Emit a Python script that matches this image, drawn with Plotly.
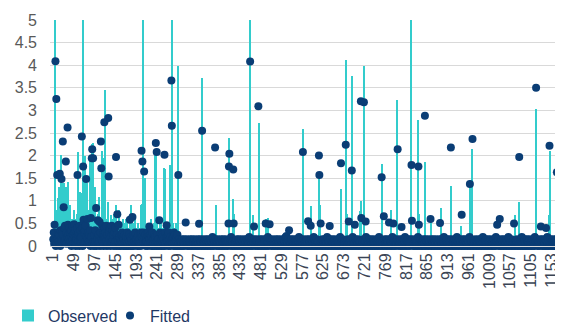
import plotly.graph_objects as go

# ---------------- data ----------------
# Baseline observed values, one digit per category, in tenths (0.1 units)
observed_base_rows = [
    "342516232814352624173526183425162437251634261528",
    "253416273518243615273426153724361827352416283517",
    "243516372415263418253627143526172435182634251736",
    "231524163214251326152413261523142516231425132614",
    "241325142315241623152614231524132516241325142316",
    "251423152614231524162315241325142316251423152413",
    "120110211021120121102110011210121102012120110211",
    "021121011210201120110211110201210112101221102110",
    "102112010211210112011021201102111210201111020121",
    "211021100112101210211201121020110211210112011021",
    "110201212011021102112101211021101201102101121012",
    "121020111102012121102110102112012011021102112101",
    "011210121201102111020121021121012110211010211201",
    "201102112110211012102011011210121021120111020121",
    "120110210211210101121012110201211210201120110211",
    "102112012011021121102110120110210211210112102011",
    "021121011102012110211201201102110112101221102110",
    "211021101210201111020121021121011201102101121012",
    "110201210112101220110211102112012110211012011021",
    "121020112110211002112101120110211102012110211201",
    "011210121021120112102011211021102011021102112101",
    "201102111201102101121012110201211021120121102110",
    "120110211102012121102110201102110211210112102011",
    "021121012011021112011021011210122110211011020121",
    "10211201121020112110211001",
]
# Baseline fitted values, one digit per category, in 0.05 units
fitted_base_rows = [
    "361528041736251904372615082937164205381627049315",
    "261704381526093714280536172904381625170943618205",
    "172604391528061739250418362905172638041927350618",
    "240513260413052614031502240613052604130315042613",
    "130425031506140326041503250614031504260315041305",
    "250314061305240315061403250613042503140615032405",
    "021301202130120312021301202130120312021301202130",
    "120312021301202130120312021301204130120312021301",
    "202130120312021301202130120412021301202130120312",
    "021301202130120312021401202130120312021301202130",
    "120312021301202140120312021301202130120312021301",
    "202130120412021301202130120312021301202140120312",
    "021301202130120312021301204130120312021301202130",
    "120312021401202130120312021301202130120412021301",
    "202130120312021301204130120312021301202130120312",
    "021401202130120312021301202130120412021301202130",
    "120312021301202140120312021301202130120312021401",
    "202130120312021301202130120412021301202130120312",
    "021301204130120312021301202130120312021401202130",
    "120312021301202130120412021301202130120312021301",
    "204130120312021301202130120312021401202130120312",
    "021301202130120412021301202130120312021301204130",
    "120312021301202130120312021401202130120312021301",
    "202130120412021301202130120312021301204130120312",
    "02130120213012031202140120",
]

# Larger observed values (category number -> value)
observed_spike_idx = [5, 11, 14, 18, 20, 24, 27, 30, 35, 40, 58, 62, 65, 71, 75, 80, 86, 90, 92,
                      98, 106, 113, 115, 121, 128, 134, 146, 152, 181, 204, 206, 208, 213, 236,
                      239, 256, 259, 272, 275, 290, 345, 377, 407, 417, 420, 456, 464, 476, 493,
                      498, 578, 596, 616, 618, 666, 677, 680, 691, 710, 713, 719, 760, 783, 796,
                      829, 845, 847, 860, 874, 898, 920, 944, 964, 970, 1068, 1077, 1117, 1146,
                      1149, 1165]
observed_spike_val = [6.0, 1.06, 1.3, 1.5, 2.02, 1.39, 1.4, 1.31, 1.42, 0.9, 2.09, 1.2, 1.17, 6.0,
                      2.0, 1.39, 1.87, 2.25, 2.28, 1.31, 1.09, 2.1, 1.95, 3.46, 0.98, 0.68, 0.9,
                      0.8, 0.91, 0.9, 0.93, 6.0, 1.5, 2.1, 2.15, 1.73, 1.7, 1.8, 6.0, 3.98, 3.72,
                      0.91, 2.39, 1.03, 0.7, 6.0, 0.69, 2.73, 0.6, 0.62, 2.59, 0.89, 1.6, 0.9,
                      1.26, 4.12, 0.7, 3.76, 0.78, 1.0, 3.99, 1.82, 0.8, 3.22, 6.0, 2.78, 0.7,
                      1.85, 0.55, 0.83, 1.32, 0.45, 1.46, 2.15, 0.69, 0.97, 3.03, 0.68, 2.11, 1.61]

# Larger fitted values (category number -> value)
fitted_spike_idx = [4, 6, 8, 10, 16, 18, 20, 23, 25, 30, 34, 35, 49, 57, 67, 70, 71, 77, 80, 88,
                    90, 91, 93, 100, 104, 108, 111, 112, 119, 128, 129, 146, 149, 152, 178, 184,
                    205, 207, 211, 223, 238, 240, 246, 258, 263, 274, 275, 290, 307, 338, 345,
                    375, 406, 407, 408, 417, 418, 456, 465, 475, 492, 501, 540, 546, 578, 590,
                    596, 615, 616, 619, 640, 666, 677, 684, 691, 698, 712, 713, 719, 723, 760,
                    765, 777, 787, 797, 806, 829, 830, 845, 846, 860, 873, 895, 920, 945, 964,
                    970, 1027, 1033, 1066, 1078, 1117, 1128, 1140, 1148, 1165]
fitted_spike_val = [0.47, 4.09, 3.25, 1.57, 1.6, 0.35, 1.48, 2.31, 0.86, 1.87, 2.62, 0.47, 0.48,
                    1.57, 2.42, 1.76, 0.58, 1.48, 0.6, 0.62, 1.94, 2.14, 1.94, 0.84, 0.57, 0.53,
                    2.31, 1.72, 2.74, 2.83, 1.54, 1.97, 0.7, 0.47, 0.58, 0.64, 2.11, 1.87, 1.65,
                    0.43, 2.28, 2.08, 0.57, 2.02, 0.46, 3.66, 2.66, 1.57, 0.52, 0.49, 2.55, 2.18,
                    0.5, 1.76, 2.04, 1.69, 0.5, 4.08, 0.43, 3.09, 0.5, 0.48, 0.22, 0.35, 2.08,
                    0.55, 0.45, 2.0, 1.57, 0.5, 0.44, 1.83, 2.24, 0.54, 1.67, 0.47, 3.2, 0.62,
                    3.18, 0.54, 1.52, 0.66, 0.52, 0.5, 2.14, 0.42, 1.79, 0.56, 1.76, 0.47, 2.88,
                    0.6, 0.51, 2.18, 0.69, 1.37, 2.37, 0.47, 0.6, 0.5, 1.97, 3.5, 0.43, 0.4,
                    2.22, 1.63]

TICK_STEP = 48

# ---------------- build series ----------------
obs_digits = "".join(observed_base_rows)
fit_digits = "".join(fitted_base_rows)
n = min(len(obs_digits), len(fit_digits))
categories = list(range(1, n + 1))
observed = [int(c) * 0.1 for c in obs_digits[:n]]
fitted = [int(c) * 0.05 for c in fit_digits[:n]]
for i, v in zip(observed_spike_idx, observed_spike_val):
    if 1 <= i <= n:
        observed[i - 1] = v
for i, v in zip(fitted_spike_idx, fitted_spike_val):
    if 1 <= i <= n:
        fitted[i - 1] = v

tick_vals = list(range(1, n + 1, TICK_STEP))
tick_text = [str(v) for v in tick_vals]

TEAL = "#33CCCC"
NAVY = "#0A3D75"

fig = go.Figure()
fig.add_trace(go.Bar(
    x=categories, y=observed, name="Observed",
    marker=dict(color=TEAL, line=dict(width=0)),
    width=2.8,
))
fig.add_trace(go.Scatter(
    x=categories, y=fitted, name="Fitted", mode="markers",
    marker=dict(color=NAVY, size=8, line=dict(width=0)),
    cliponaxis=False,
))

# The page places the figure 8px in from the top-left corner,
# so the figure is 8px smaller than the window.
fig.update_layout(
    width=555, height=317,
    margin=dict(l=42, r=0, t=12, b=79, autoexpand=False),
    paper_bgcolor="white", plot_bgcolor="white",
    font=dict(family="Liberation Sans, Arial, sans-serif", size=16, color="#595959"),
    bargap=0,
    showlegend=True,
    legend=dict(
        orientation="h", xref="container", yref="container",
        x=-0.029, xanchor="left", y=0.03, yanchor="middle",
        font=dict(size=16, color="#1F3864"),
        itemwidth=30, entrywidth=57, entrywidthmode="pixels",
        tracegroupgap=0, bgcolor="rgba(0,0,0,0)",
    ),
    hovermode=False,
)
fig.update_xaxes(
    range=[-6.6, 1179.2], automargin=False,
    tickmode="array", tickvals=tick_vals, ticktext=tick_text,
    tickangle=-90, tickfont=dict(size=16, color="#3A4454"),
    showgrid=False, zeroline=False,
    showline=True, linecolor="#D9D9D9", linewidth=1,
    ticks="",
)
fig.update_yaxes(
    range=[0, 5], dtick=0.5, tick0=0, automargin=False,
    showgrid=True, gridcolor="#D9D9D9", gridwidth=1,
    zeroline=False, showline=False, ticks="",
    tickfont=dict(size=16, color="#595959"),
    ticklabelstandoff=12,
)

fig.write_html("out.html", config={"displayModeBar": False})
